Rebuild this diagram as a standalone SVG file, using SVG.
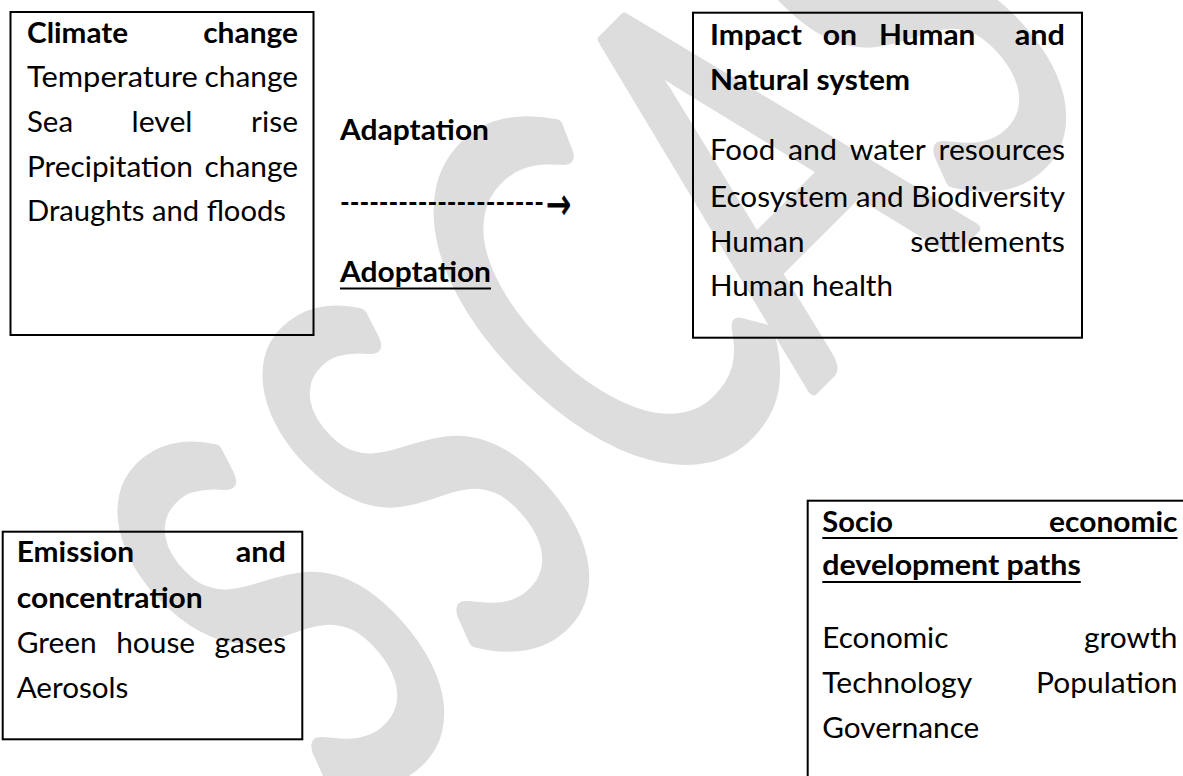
<svg xmlns="http://www.w3.org/2000/svg" width="1183" height="776" viewBox="0 0 1183 776">
<style>
.t{font-family:Lato,'Open Sans',sans-serif;font-size:29px;fill:#000}
.b{font-weight:700}
.box{fill:none;stroke:#000;stroke-width:2}
.ul{stroke:#000;stroke-width:2}
.wm{font-family:Lato,'Open Sans',sans-serif;font-size:345px;fill:#dddddd;stroke:#dddddd;stroke-width:7;stroke-linejoin:round;text-anchor:middle}
.arrow{font-family:'DejaVu Sans',sans-serif;font-size:44px;fill:#000;stroke:#000;stroke-width:0.8}
</style>
<rect width="1183" height="776" fill="#fff"/>
<g id="watermark">
<text class="wm" transform="translate(280,614) rotate(-45) scale(1,1.6)" x="0" y="123.6">S</text>
<text class="wm" transform="translate(425,478) rotate(-45) scale(1,1.6)" x="0" y="123.6">S</text>
<text class="wm" transform="translate(592,305) rotate(-45) scale(1,1.6)" x="0" y="123.6">C</text>
<text class="wm" transform="translate(754,169) rotate(-45) scale(1,1.6)" x="0" y="123.6">A</text>
<text class="wm" transform="translate(902,18) rotate(-45) scale(1,1.6)" x="0" y="123.6">S</text>
</g>
<g id="climate-change">
<rect class="box" x="10.5" y="12" width="303" height="323"/>
<text class="t b" x="27" y="43" textLength="101" lengthAdjust="spacingAndGlyphs">Climate</text>
<text class="t b" x="203.2" y="43" textLength="94.8" lengthAdjust="spacingAndGlyphs">change</text>
<text class="t" x="27" y="87" textLength="170.9" lengthAdjust="spacingAndGlyphs">Temperature</text>
<text class="t" x="204.5" y="87" textLength="93.5" lengthAdjust="spacingAndGlyphs">change</text>
<text class="t" x="27" y="132" textLength="46" lengthAdjust="spacingAndGlyphs">Sea</text>
<text class="t" x="131.5" y="132" textLength="61" lengthAdjust="spacingAndGlyphs">level</text>
<text class="t" x="251.1" y="132" textLength="46.9" lengthAdjust="spacingAndGlyphs">rise</text>
<text class="t" x="27" y="177" textLength="165.9" lengthAdjust="spacingAndGlyphs">Precipitation</text>
<text class="t" x="204.5" y="177" textLength="93.5" lengthAdjust="spacingAndGlyphs">change</text>
<text class="t" x="27" y="221" textLength="259" lengthAdjust="spacingAndGlyphs">Draughts and floods</text>
</g>
<g id="adaptation-labels">
<text class="t b" x="340" y="140" textLength="149" lengthAdjust="spacingAndGlyphs">Adaptation</text>
<text class="t b" x="340" y="282" textLength="151" lengthAdjust="spacingAndGlyphs">Adoptation</text>
<line class="ul" x1="340" y1="288.5" x2="491" y2="288.5"/>
</g>
<g id="connectors">
<text class="t b" x="340" y="212" textLength="204" lengthAdjust="spacingAndGlyphs">---------------------</text>
<text class="arrow" x="546" y="219" textLength="25" lengthAdjust="spacingAndGlyphs">→</text>
</g>
<g id="impact">
<rect class="box" x="693" y="12.7" width="389" height="325"/>
<text class="t b" x="710" y="45" textLength="92" lengthAdjust="spacingAndGlyphs">Impact</text>
<text class="t b" x="822.7" y="45" textLength="34.4" lengthAdjust="spacingAndGlyphs">on</text>
<text class="t b" x="879" y="45" textLength="96.4" lengthAdjust="spacingAndGlyphs">Human</text>
<text class="t b" x="1014.8" y="45" textLength="50.2" lengthAdjust="spacingAndGlyphs">and</text>
<text class="t b" x="710" y="90" textLength="200" lengthAdjust="spacingAndGlyphs">Natural system</text>
<text class="t" x="710" y="160" textLength="65.2" lengthAdjust="spacingAndGlyphs">Food</text>
<text class="t" x="788" y="160" textLength="48.9" lengthAdjust="spacingAndGlyphs">and</text>
<text class="t" x="849.7" y="160" textLength="76" lengthAdjust="spacingAndGlyphs">water</text>
<text class="t" x="938.6" y="160" textLength="126.4" lengthAdjust="spacingAndGlyphs">resources</text>
<text class="t" x="710" y="206.7" textLength="355" lengthAdjust="spacingAndGlyphs">Ecosystem and Biodiversity</text>
<text class="t" x="710" y="251.7" textLength="94.4" lengthAdjust="spacingAndGlyphs">Human</text>
<text class="t" x="910.3" y="251.7" textLength="154.7" lengthAdjust="spacingAndGlyphs">settlements</text>
<text class="t" x="710" y="296" textLength="183" lengthAdjust="spacingAndGlyphs">Human health</text>
</g>
<g id="emission">
<rect class="box" x="2.7" y="531.7" width="299.6" height="207.6"/>
<text class="t b" x="16.7" y="561.7" textLength="117.3" lengthAdjust="spacingAndGlyphs">Emission</text>
<text class="t b" x="235.8" y="561.7" textLength="50.2" lengthAdjust="spacingAndGlyphs">and</text>
<text class="t b" x="16.7" y="608.3" textLength="186" lengthAdjust="spacingAndGlyphs">concentration</text>
<text class="t" x="16.7" y="653.3" textLength="80" lengthAdjust="spacingAndGlyphs">Green</text>
<text class="t" x="116.2" y="653.3" textLength="78.9" lengthAdjust="spacingAndGlyphs">house</text>
<text class="t" x="214.6" y="653.3" textLength="71.4" lengthAdjust="spacingAndGlyphs">gases</text>
<text class="t" x="16.7" y="698.3" textLength="111.7" lengthAdjust="spacingAndGlyphs">Aerosols</text>
</g>
<g id="socio-economic">
<rect class="box" x="807.7" y="500.7" width="500" height="400"/>
<text class="t b" x="822.3" y="531.7" textLength="70.8" lengthAdjust="spacingAndGlyphs">Socio</text>
<text class="t b" x="1049.1" y="531.7" textLength="128.4" lengthAdjust="spacingAndGlyphs">economic</text>
<line class="ul" x1="822.3" y1="538" x2="1177.5" y2="538"/>
<text class="t b" x="822.3" y="575" textLength="258.5" lengthAdjust="spacingAndGlyphs">development paths</text>
<line class="ul" x1="822.3" y1="582" x2="1080.8" y2="582"/>
<text class="t" x="822.3" y="648.3" textLength="126.1" lengthAdjust="spacingAndGlyphs">Economic</text>
<text class="t" x="1084" y="648.3" textLength="93.5" lengthAdjust="spacingAndGlyphs">growth</text>
<text class="t" x="822.3" y="693.3" textLength="149.9" lengthAdjust="spacingAndGlyphs">Technology</text>
<text class="t" x="1036.1" y="693.3" textLength="141.4" lengthAdjust="spacingAndGlyphs">Population</text>
<text class="t" x="822.3" y="738.3" textLength="157" lengthAdjust="spacingAndGlyphs">Governance</text>
</g>
</svg>
